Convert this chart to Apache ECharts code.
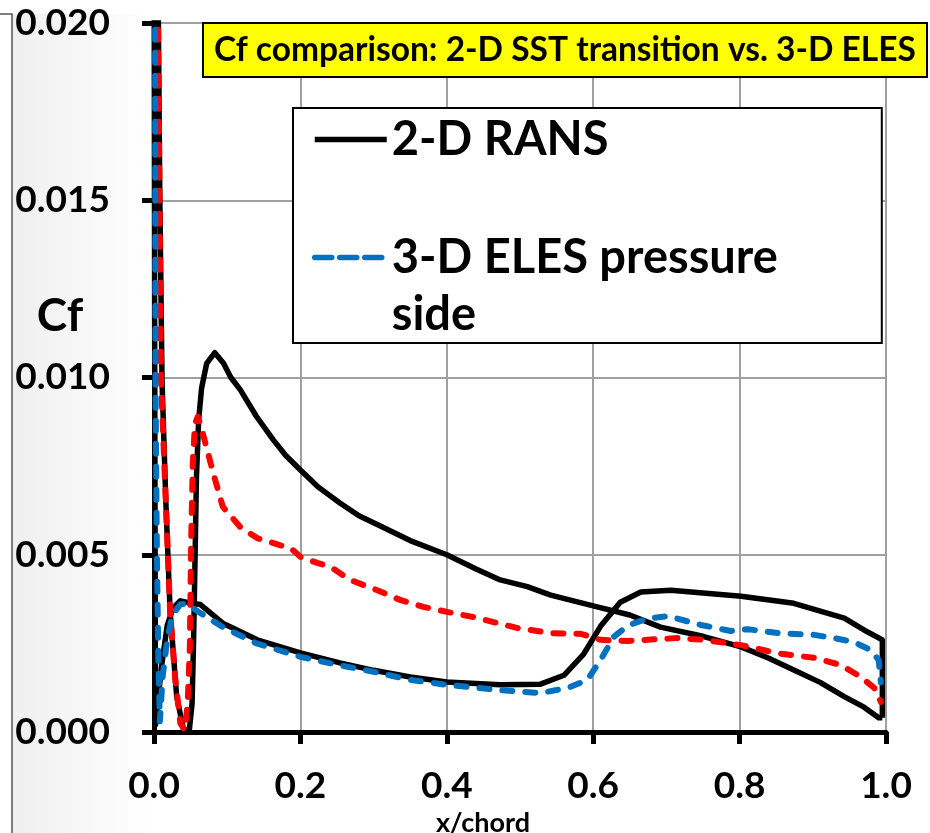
<!DOCTYPE html>
<html>
<head>
<meta charset="utf-8">
<script src="https://cdn.jsdelivr.net/npm/echarts@6/dist/echarts.min.js"></script>
<style>
html,body{margin:0;padding:0;background:#fff;}
#chart{width:930px;height:833px;}
</style>
</head>
<body>
<div id="chart"></div>
<script>
// ---- data ----
const xTicks = [0.0, 0.2, 0.4, 0.6, 0.8, 1.0];
const yTicks = [0.000, 0.005, 0.010, 0.015, 0.020];

// 2-D RANS, suction side (leading edge -> trailing edge)
const ransSuctionX = [0.004, 0.006, 0.008, 0.011, 0.016, 0.022, 0.031, 0.040, 0.048, 0.052, 0.054, 0.056, 0.058, 0.061, 0.065, 0.072, 0.083, 0.095, 0.105, 0.118, 0.140, 0.163, 0.180, 0.200, 0.225, 0.254, 0.280, 0.300, 0.350, 0.400, 0.440, 0.473, 0.510, 0.542, 0.600, 0.650, 0.692, 0.750, 0.802, 0.840, 0.874, 0.910, 0.943, 0.970, 0.990, 0.995];
const ransSuctionY = [0.0250, 0.0200, 0.0150, 0.0099, 0.0066, 0.0034, 0.0010, 0.0001, 0.0000, 0.0008, 0.0025, 0.0048, 0.0072, 0.0088, 0.0097, 0.0104, 0.0107, 0.0104, 0.0100, 0.00965, 0.0089, 0.00824, 0.0078, 0.00739, 0.0069, 0.00646, 0.0061, 0.0059, 0.0054, 0.0050, 0.0046, 0.00429, 0.0041, 0.00386, 0.00356, 0.0033, 0.00296, 0.0027, 0.0024, 0.00208, 0.00175, 0.0014, 0.0010, 0.0007, 0.0004, 0.0004];

// 2-D RANS, pressure side (leading edge -> trailing edge)
const ransPressureX = [0.000, 0.001, 0.002, 0.005, 0.010, 0.018, 0.026, 0.036, 0.049, 0.063, 0.094, 0.141, 0.200, 0.254, 0.300, 0.350, 0.400, 0.473, 0.528, 0.560, 0.587, 0.610, 0.637, 0.665, 0.706, 0.802, 0.874, 0.943, 0.975, 0.995];
const ransPressureY = [0.0250, 0.0100, 0.0002, 0.0008, 0.0018, 0.0030, 0.0035, 0.0037, 0.00364, 0.0036, 0.00307, 0.0026, 0.00223, 0.00195, 0.00174, 0.00155, 0.00141, 0.00133, 0.00135, 0.0016, 0.0022, 0.00298, 0.00366, 0.00395, 0.0040, 0.00383, 0.00363, 0.00321, 0.00282, 0.0026];

// 3-D ELES, pressure side
const elesPressureX = [0.001, 0.0015, 0.002, 0.004, 0.006, 0.008, 0.012, 0.018, 0.025, 0.036, 0.045, 0.060, 0.094, 0.140, 0.200, 0.254, 0.300, 0.350, 0.400, 0.473, 0.528, 0.565, 0.592, 0.610, 0.628, 0.647, 0.674, 0.702, 0.747, 0.788, 0.811, 0.852, 0.902, 0.929, 0.956, 0.979, 0.990, 0.993];
const elesPressureY = [0.0250, 0.0200, 0.0100, 0.0050, 0.0020, 0.0003, 0.0016, 0.0026, 0.0033, 0.0036, 0.00362, 0.0034, 0.00296, 0.0025, 0.00212, 0.00188, 0.0017, 0.00147, 0.00133, 0.00118, 0.0011, 0.00124, 0.00147, 0.00203, 0.00268, 0.0030, 0.0032, 0.00327, 0.00302, 0.00285, 0.0029, 0.00279, 0.00274, 0.00265, 0.00254, 0.00231, 0.00203, 0.0014];

// 3-D ELES, suction side
const elesSuctionX = [0.004, 0.0055, 0.0075, 0.0096, 0.015, 0.022, 0.029, 0.036, 0.042, 0.046, 0.049, 0.0506, 0.053, 0.056, 0.060, 0.067, 0.081, 0.094, 0.118, 0.141, 0.172, 0.186, 0.200, 0.223, 0.241, 0.268, 0.305, 0.337, 0.368, 0.400, 0.437, 0.464, 0.497, 0.542, 0.583, 0.610, 0.647, 0.715, 0.751, 0.802, 0.852, 0.902, 0.938, 0.966, 0.984, 0.993];
const elesSuctionY = [0.0250, 0.0200, 0.0150, 0.0099, 0.0071, 0.0034, 0.0015, 0.00025, 0.00005, 0.0008, 0.0024, 0.0052, 0.0076, 0.0087, 0.0089, 0.0084, 0.0073, 0.00635, 0.00578, 0.00547, 0.00527, 0.0052, 0.00494, 0.00477, 0.00466, 0.00429, 0.0040, 0.00372, 0.00353, 0.00339, 0.00324, 0.0031, 0.00293, 0.00279, 0.00277, 0.0026, 0.00257, 0.00265, 0.0026, 0.00245, 0.00222, 0.00209, 0.00189, 0.00155, 0.00124, 0.00085];

const seriesNames = ['2-D RANS', '3-D ELES pressure side', '3-D ELES suction side'];
const titleText = 'Cf comparison: 2-D SST transition vs. 3-D ELES';
const yAxisName = 'Cf';
const xAxisName = 'x/chord';

// ---- build ----
const zip = (xs, ys) => xs.map((x, i) => [x, ys[i]]);
const suction = zip(ransSuctionX, ransSuctionY);
const pressure = zip(ransPressureX, ransPressureY);
// closed loop around the airfoil: suction TE -> LE, pressure LE -> TE, back to suction TE
const ransLoop = suction.slice().reverse().concat(pressure, [suction[suction.length - 1]]);

const FONT = 'Lato';
const DASH = [10, 13];
const chart = echarts.init(document.getElementById('chart'));
chart.setOption({
  animation: false,
  backgroundColor: '#ffffff',
  graphic: [
    { type: 'rect', shape: { x: 12, y: 14, width: 140, height: 819 }, z: -10, silent: true,
      style: { fill: new echarts.graphic.LinearGradient(0, 0, 1, 0, [{ offset: 0, color: '#efefef' }, { offset: 1, color: '#ffffff' }]) } },
    { type: 'polyline', shape: { points: [[0, 14], [12, 14], [12, 833]] }, z: -5, silent: true,
      style: { stroke: '#555', lineWidth: 1.5, fill: null } },
    { type: 'text', x: 60, y: 316, z: 5, silent: true,
      style: { text: yAxisName, fontFamily: FONT, fontWeight: 'bold', fontSize: 46, fill: '#000', align: 'center', verticalAlign: 'middle' } }
  ],
  title: {
    text: titleText,
    left: 203, top: 23,
    backgroundColor: '#FFFF00', borderColor: '#000', borderWidth: 2,
    padding: [10, 11, 10, 11],
    textStyle: { fontFamily: FONT, fontWeight: 'bold', fontSize: 33.5, lineHeight: 34, color: '#000' }
  },
  legend: {
    data: [
      { name: seriesNames[0], lineStyle: { width: 5.5 } },
      { name: seriesNames[1], lineStyle: { width: 5.5, type: [17, 8] } }
    ],
    orient: 'vertical',
    left: 293, top: 108,
    backgroundColor: '#fff', borderColor: '#000', borderWidth: 2,
    padding: [3, 104, 0, 19],
    itemWidth: 72, itemHeight: 14, itemGap: 4,
    selectedMode: false,
    formatter: function (name) { return name === seriesNames[1] ? '\n3-D ELES pressure\nside' : name; },
    lineStyle: { width: 5.5 },
    itemStyle: { opacity: 0 },
    textStyle: { fontFamily: FONT, fontWeight: 'bold', fontSize: 47, lineHeight: 57, color: '#000' }
  },
  grid: { left: 154, right: 44, top: 23, bottom: 101, containLabel: false, outerBoundsMode: 'none' },
  xAxis: {
    type: 'value', min: xTicks[0], max: xTicks[xTicks.length - 1], interval: 0.2,
    name: xAxisName, nameLocation: 'middle', nameGap: 72,
    nameTextStyle: { fontFamily: FONT, fontWeight: 'bold', fontSize: 27, color: '#000', padding: [0, 74, 0, 0] },
    axisLine: { onZero: false, lineStyle: { color: '#000', width: 5 } },
    axisTick: { show: true, length: 12, lineStyle: { color: '#000', width: 5 } },
    axisLabel: { margin: 36, fontFamily: FONT, fontWeight: 'bold', fontSize: 37, color: '#000',
      formatter: v => v.toFixed(1) },
    splitLine: { show: true, lineStyle: { color: '#a0a0a0', width: 2 } }
  },
  yAxis: {
    type: 'value', min: yTicks[0], max: yTicks[yTicks.length - 1], interval: 0.005,
    axisLine: { onZero: false, lineStyle: { color: '#000', width: 5 } },
    axisTick: { show: true, length: 12, lineStyle: { color: '#000', width: 5 } },
    axisLabel: { margin: 44, fontFamily: FONT, fontWeight: 'bold', fontSize: 37, color: '#000',
      formatter: v => v.toFixed(3) },
    splitLine: { show: true, lineStyle: { color: '#a0a0a0', width: 2 } }
  },
  series: [
    { name: seriesNames[0], type: 'line', data: ransLoop, symbol: 'circle', symbolSize: 0, showSymbol: false,
      clip: true, z: 2, lineStyle: { color: '#000', width: 5.5, join: 'round' }, itemStyle: { color: '#000' } },
    { name: seriesNames[2], type: 'line', data: zip(elesSuctionX, elesSuctionY), symbol: 'circle', symbolSize: 0, showSymbol: false,
      clip: true, z: 3, lineStyle: { color: '#ff0000', width: 6, type: DASH, cap: 'round', join: 'round' }, itemStyle: { color: '#ff0000' } },
    { name: seriesNames[1], type: 'line', data: zip(elesPressureX, elesPressureY), symbol: 'circle', symbolSize: 0, showSymbol: false,
      clip: true, z: 3, lineStyle: { color: '#0070c0', width: 6, type: DASH, cap: 'round', join: 'round' }, itemStyle: { color: '#0070c0' } }
  ]
});
</script>
</body>
</html>
